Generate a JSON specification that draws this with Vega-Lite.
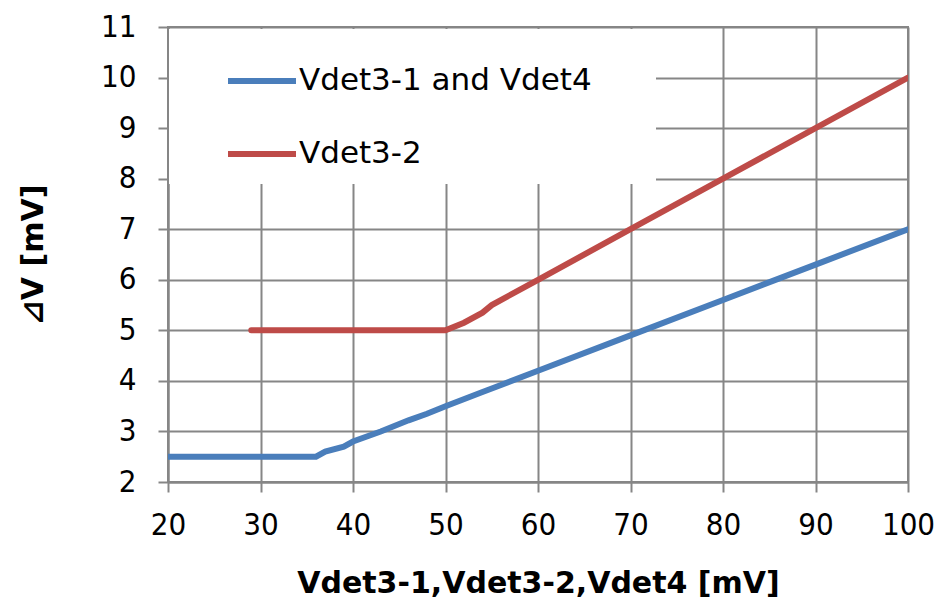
{
  "$schema": "https://vega.github.io/schema/vega-lite/v6.json",
  "width": 740,
  "height": 455,
  "autosize": {"type": "none"},
  "padding": {"left": 168, "top": 27, "right": 32, "bottom": 128},
  "background": "white",
  "config": {
    "font": "DejaVu Sans",
    "view": {"stroke": "#868686", "strokeWidth": 2}
  },
  "data": {
    "values": [
      {"x": 20, "y": 2.5, "s": "Vdet3-1 and Vdet4"},
      {"x": 36, "y": 2.5, "s": "Vdet3-1 and Vdet4"},
      {"x": 37, "y": 2.6, "s": "Vdet3-1 and Vdet4"},
      {"x": 39, "y": 2.7, "s": "Vdet3-1 and Vdet4"},
      {"x": 40, "y": 2.8, "s": "Vdet3-1 and Vdet4"},
      {"x": 43, "y": 3.0, "s": "Vdet3-1 and Vdet4"},
      {"x": 46, "y": 3.22, "s": "Vdet3-1 and Vdet4"},
      {"x": 48, "y": 3.35, "s": "Vdet3-1 and Vdet4"},
      {"x": 50, "y": 3.5, "s": "Vdet3-1 and Vdet4"},
      {"x": 54, "y": 3.78, "s": "Vdet3-1 and Vdet4"},
      {"x": 56, "y": 3.92, "s": "Vdet3-1 and Vdet4"},
      {"x": 60, "y": 4.2, "s": "Vdet3-1 and Vdet4"},
      {"x": 70, "y": 4.9, "s": "Vdet3-1 and Vdet4"},
      {"x": 80, "y": 5.6, "s": "Vdet3-1 and Vdet4"},
      {"x": 90, "y": 6.3, "s": "Vdet3-1 and Vdet4"},
      {"x": 100, "y": 7.0, "s": "Vdet3-1 and Vdet4"},
      {"x": 29, "y": 5, "s": "Vdet3-2"},
      {"x": 50, "y": 5, "s": "Vdet3-2"},
      {"x": 52, "y": 5.15, "s": "Vdet3-2"},
      {"x": 54, "y": 5.35, "s": "Vdet3-2"},
      {"x": 55, "y": 5.5, "s": "Vdet3-2"},
      {"x": 60, "y": 6, "s": "Vdet3-2"},
      {"x": 70, "y": 7, "s": "Vdet3-2"},
      {"x": 80, "y": 8, "s": "Vdet3-2"},
      {"x": 90, "y": 9, "s": "Vdet3-2"},
      {"x": 100, "y": 10, "s": "Vdet3-2"}
    ]
  },
  "mark": {"type": "line", "strokeWidth": 6, "strokeCap": "round", "clip": true},
  "encoding": {
    "x": {
      "field": "x", "type": "quantitative",
      "scale": {"domain": [20, 100], "nice": false, "zero": false},
      "axis": {
        "values": [20, 30, 40, 50, 60, 70, 80, 90, 100],
        "labelFlush": false, "labelOverlap": false,
        "title": "Vdet3-1,Vdet3-2,Vdet4 [mV]",
        "titleFontSize": 30, "titleFontWeight": "bold", "titleColor": "black", "titlePadding": 28,
        "labelFontSize": 31, "labelColor": "black", "labelPadding": 18,
        "labelFont": "DejaVu Sans Condensed",
        "tickSize": 10, "tickColor": "#868686", "tickWidth": 2,
        "domainColor": "#868686", "domainWidth": 2,
        "gridColor": "#868686", "gridWidth": 2, "gridOpacity": 1
      }
    },
    "y": {
      "field": "y", "type": "quantitative",
      "scale": {"domain": [2, 11], "nice": false, "zero": false},
      "axis": {
        "values": [2, 3, 4, 5, 6, 7, 8, 9, 10, 11],
        "labelFlush": false, "labelOverlap": false,
        "title": "⊿V [mV]",
        "titleFontSize": 30, "titleFontWeight": "bold", "titleColor": "black", "titlePadding": 52,
        "labelFontSize": 31, "labelColor": "black", "labelPadding": 22,
        "labelFont": "DejaVu Sans Condensed",
        "tickSize": 10, "tickColor": "#868686", "tickWidth": 2,
        "domainColor": "#868686", "domainWidth": 2,
        "gridColor": "#868686", "gridWidth": 2, "gridOpacity": 1
      }
    },
    "color": {
      "field": "s", "type": "nominal",
      "scale": {"domain": ["Vdet3-1 and Vdet4", "Vdet3-2"], "range": ["#4a7ebb", "#be4b48"]},
      "legend": {
        "title": " ", "titleOrient": "right", "titlePadding": 49, "titleFontSize": 10,
        "orient": "none", "legendX": 1, "legendY": 2, "padding": 15,
        "symbolType": "stroke", "symbolSize": 4624, "symbolStrokeWidth": 6, "symbolOffset": 41,
        "labelFontSize": 31, "labelColor": "black", "labelOffset": 0, "labelLimit": 500,
        "rowPadding": 21, "fillColor": "white", "strokeColor": null
      }
    }
  }
}
